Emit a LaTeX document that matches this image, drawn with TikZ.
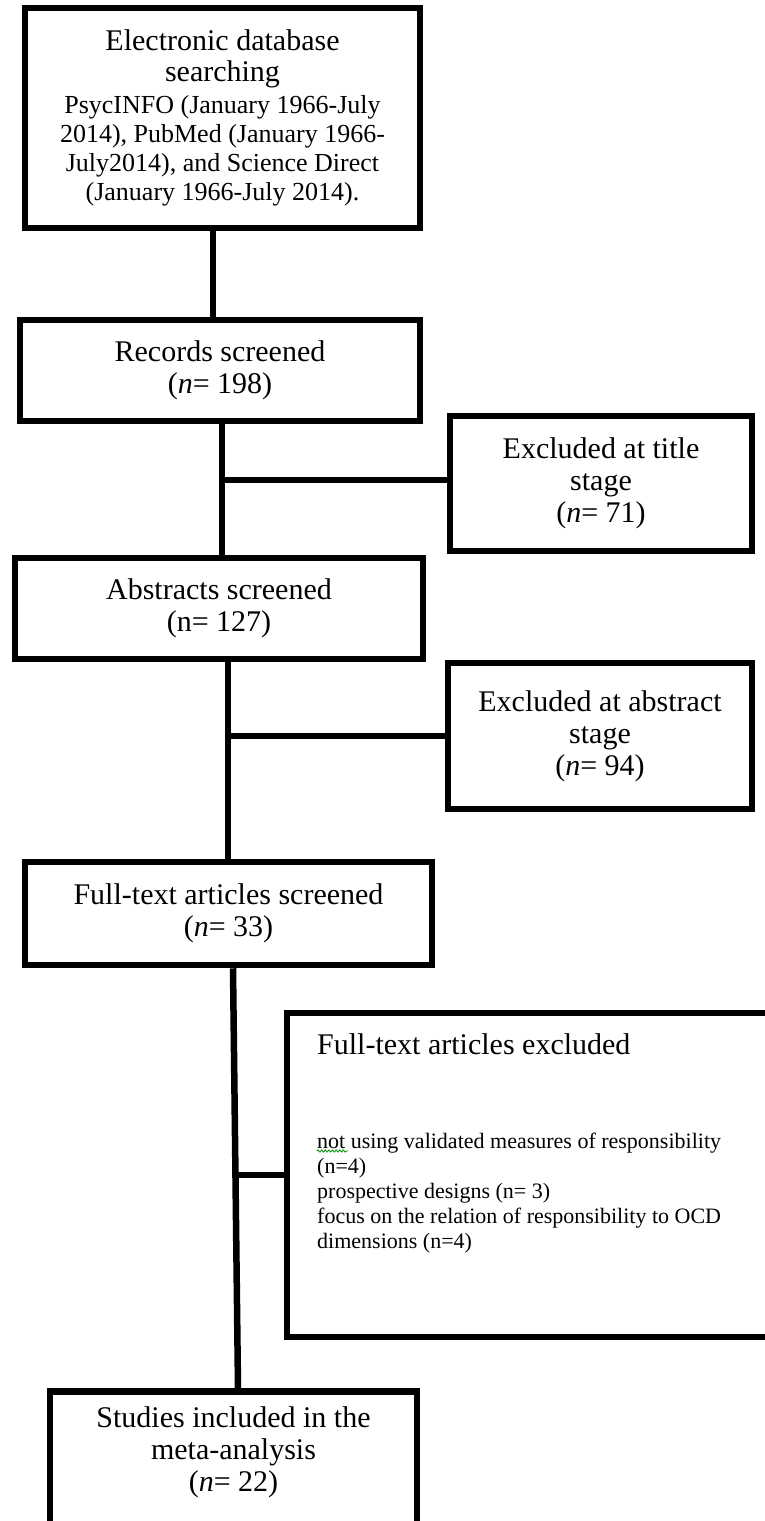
\documentclass[tikz,border=0pt]{standalone}
\usepackage{fontspec}
\setmainfont{Liberation Serif}
\usetikzlibrary{calc,decorations.pathmorphing}
\tikzset{
  box/.style={draw=black, line width=6.5pt, inner sep=0pt, align=flush center,
    font=\fontsize{30}{32}\selectfont},
  link/.style={draw=black, line width=6.5pt},
  txt/.style={inner sep=0pt, align=flush center, font=\fontsize{30}{32}\selectfont},
}
\begin{document}
\begin{tikzpicture}[x=1pt, y=-1pt]
\clip (0,0) rectangle (765,1521);
\fill[white] (0,0) rectangle (765,1521);

% boxes
\node[box, minimum width=395, minimum height=220, text width=380] (b1) at (222.5,118)
  {{\fontsize{30}{31}\selectfont Electronic database\\ searching\par}\vspace{3pt}%
   {\fontsize{26}{29}\selectfont PsycINFO (January 1966-July\\ 2014), PubMed (January 1966-\\ July2014), and Science Direct\\ (January 1966-July 2014).\par}};
\node[box, minimum width=400, minimum height=101, text width=380] (b2) at (220,370.5)
  {Records screened\\ (\textit{n}= 198)};
\node[box, minimum width=302, minimum height=135, text width=285] (et) at (601,483.5)
  {Excluded at title\\ stage\\ (\textit{n}= 71)};
\node[box, minimum width=408, minimum height=101, text width=390] (b3) at (219,608.5)
  {Abstracts screened\\ (n= 127)};
\node[box, minimum width=304, minimum height=146, text width=290] (ea) at (600,736)
  {Excluded at abstract\\ stage\\ (\textit{n}= 94)};
\node[box, minimum width=407, minimum height=103, text width=390] (b4) at (228.5,913.5)
  {Full-text articles screened\\ (\textit{n}= 33)};
\node[box, minimum width=503, minimum height=324] (ef) at (538.5,1175) {};
\node[txt, anchor=north west, text width=440, align=flush left] (eft) at (317,1033)
  {{\fontsize{30}{32}\selectfont Full-text articles excluded\par}\vspace{69pt}%
   {\fontsize{22}{25}\selectfont not using validated measures of responsibility\\ (n=4)\\ prospective designs (n= 3)\\ focus on the relation of responsibility to OCD\\ dimensions (n=4)\par}};
\node[box, minimum width=367, minimum height=220, anchor=north] (b5) at (233.5,1388) {};
\node[txt, text width=350] (b5t) at (233.5,1452)
  {Studies included in the\\ meta-analysis\\ (\textit{n}= 22)};

% grammar squiggle under "not"
\draw[green!55!black, line width=0.8pt, decorate,
  decoration={snake, amplitude=1.1pt, segment length=3.6pt}]
  ($(eft.north west)+(0,118)$) -- ++(31,0);

% connector positions
\coordinate (x1) at (213,0);
\coordinate (j2) at (222,480);
\coordinate (j3) at (228,736);
\coordinate (x4a) at (233,0);
\coordinate (x4b) at (238,0);
\coordinate (j4) at (235.5,1175);

\draw[link] (x1 |- b1.south) -- (x1 |- b2.north);
\draw[link] (j2 |- b2.south) -- (j2 |- b3.north);
\draw[link] (j2) -- (j2 -| et.west);
\draw[link] (j3 |- b3.south) -- (j3 |- b4.north);
\draw[link] (j3) -- (j3 -| ea.west);
\draw[link] (x4a |- b4.south) -- (x4b |- b5.north);
\draw[link] (j4) -- (j4 -| ef.west);
\end{tikzpicture}
\end{document}
